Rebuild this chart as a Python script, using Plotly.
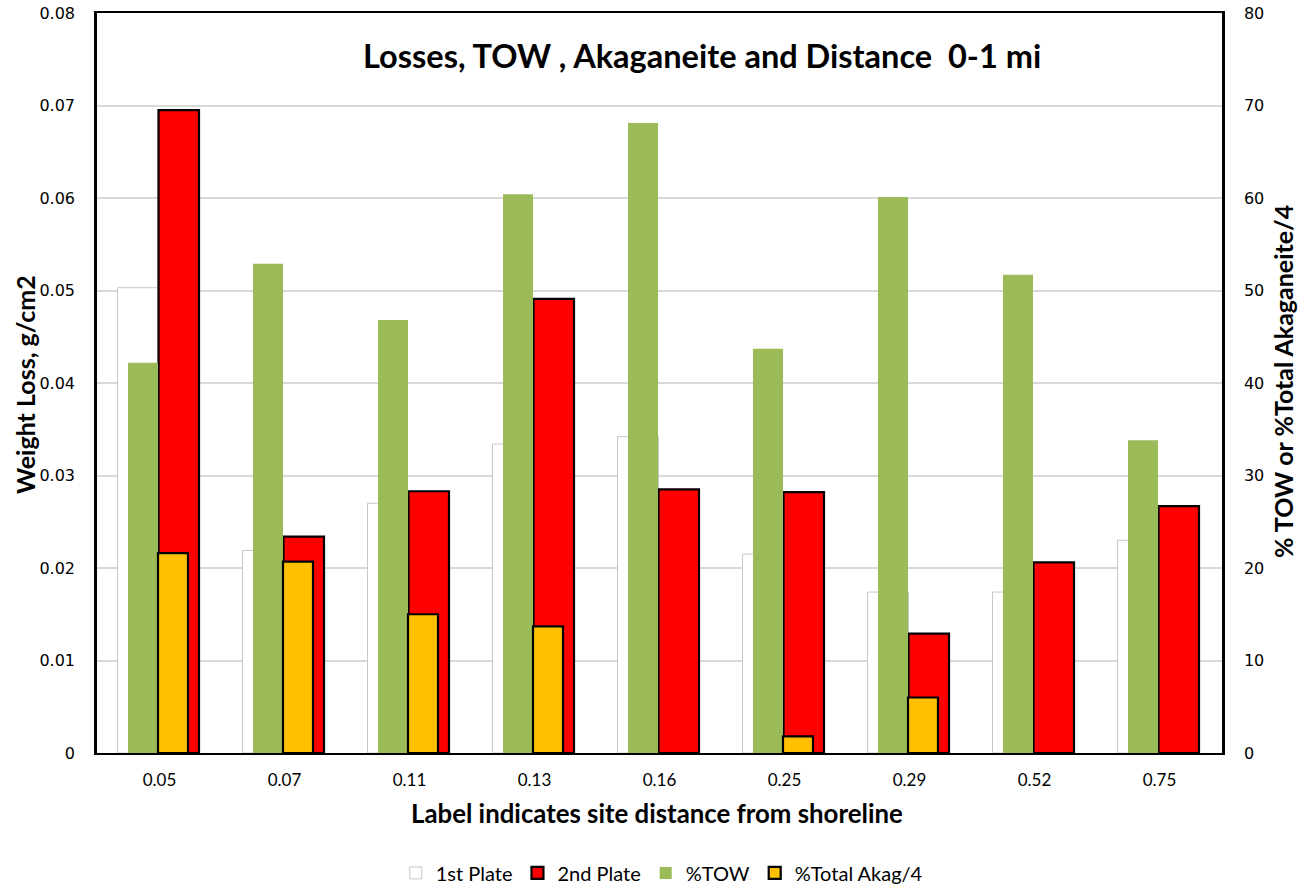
import plotly.graph_objects as go

categories = ["0.05", "0.07", "0.11", "0.13", "0.16", "0.25", "0.29", "0.52", "0.75"]
first_plate = [0.0503, 0.0219, 0.0270, 0.0334, 0.0342, 0.0215, 0.0174, 0.0174, 0.0230]
second_plate = [0.0695, 0.0234, 0.0283, 0.0491, 0.0285, 0.0282, 0.0129, 0.0206, 0.0267]
tow_pct = [42.2, 52.9, 46.8, 60.4, 68.1, 43.7, 60.1, 51.7, 33.8]
akag_pct = [21.6, 20.7, 15.0, 13.7, None, 1.8, 6.0, None, None]

FONT = "Lato, Calibri, 'Open Sans', sans-serif"
TICKFONT = "'DejaVu Sans', Verdana, sans-serif"

fig = go.Figure()
fig.add_trace(go.Bar(
    x=categories, y=first_plate, name="1st Plate", yaxis="y",
    offset=-0.336, width=0.328,
    marker=dict(color="white", line=dict(color="#c8c8c8", width=1)),
))
fig.add_trace(go.Bar(
    x=categories, y=second_plate, name="2nd Plate", yaxis="y",
    offset=-0.008, width=0.324,
    marker=dict(color="#ff0000", line=dict(color="black", width=2.2)),
))
fig.add_trace(go.Bar(
    x=categories, y=tow_pct, name="%TOW", yaxis="y2",
    offset=-0.252, width=0.24,
    marker=dict(color="#9bbb59", line=dict(width=0)),
))
fig.add_trace(go.Bar(
    x=categories, y=akag_pct, name="%Total Akag/4", yaxis="y2",
    offset=-0.012, width=0.24,
    marker=dict(color="#ffc000", line=dict(color="black", width=2.2)),
))

fig.update_layout(
    width=1306, height=890,
    margin=dict(l=97, r=84, t=13, b=137, autoexpand=False),
    paper_bgcolor="white", plot_bgcolor="white",
    barmode="overlay",
    font=dict(family=FONT, color="black"),
    xaxis=dict(
        type="category", categoryorder="array", categoryarray=categories,
        showline=True, linecolor="black", linewidth=2, mirror=True,
        showgrid=False, ticks="", tickfont=dict(size=17, family=FONT),
        ticklabelstandoff=11, automargin=False,
    ),
    yaxis=dict(
        range=[0, 0.08],
        showline=True, linecolor="black", linewidth=2.5,
        showgrid=True, gridcolor="#d9d9d9", gridwidth=1.5,
        zeroline=False, ticks="", automargin=False,
        tickfont=dict(size=16, family=TICKFONT),
        tickvals=[0, 0.01, 0.02, 0.03, 0.04, 0.05, 0.06, 0.07, 0.08],
        ticktext=["0", "0.01", "0.02", "0.03", "0.04", "0.05", "0.06", "0.07", "0.08"],
        ticklabelstandoff=16,
    ),
    yaxis2=dict(
        range=[0, 80], dtick=10, overlaying="y", side="right",
        showline=True, linecolor="black", linewidth=2.5,
        showgrid=False, zeroline=False, ticks="", automargin=False,
        tickfont=dict(size=16, family=TICKFONT),
        ticklabelstandoff=16,
    ),
    legend=dict(
        orientation="h", x=0.502, xanchor="center", y=-0.162, yanchor="middle",
        font=dict(size=20, family=FONT), bgcolor="rgba(0,0,0,0)",
        itemwidth=30,
    ),
    showlegend=True,
    annotations=[
        dict(text="<b>Losses, TOW , Akaganeite and Distance  0-1 mi</b>",
             xref="paper", yref="paper", x=0.538, y=0.943, xanchor="center", yanchor="middle",
             showarrow=False, font=dict(size=32.5, family=FONT, color="black")),
        dict(text="<b>Label indicates site distance from shoreline</b>",
             xref="paper", yref="paper", x=(657 - 97) / 1125, y=-0.081, xanchor="center", yanchor="middle",
             showarrow=False, font=dict(size=25.8, family=FONT, color="black")),
        dict(text="<b>Weight Loss, g/cm2</b>", textangle=-90,
             xref="paper", yref="paper", x=(25 - 97) / 1125, y=(753 - 385) / 740,
             xanchor="center", yanchor="middle",
             showarrow=False, font=dict(size=25, family=FONT, color="black")),
        dict(text="<b>% TOW or %Total Akaganeite/4</b>", textangle=-90,
             xref="paper", yref="paper", x=(1283 - 97) / 1125, y=(753 - 382) / 740,
             xanchor="center", yanchor="middle",
             showarrow=False, font=dict(size=25, family=FONT, color="black")),
    ],
)

fig.write_html(
    "out.html",
    config={"displayModeBar": False},
    post_script="document.body.style.margin='0px';document.body.style.overflow='hidden';",
)
